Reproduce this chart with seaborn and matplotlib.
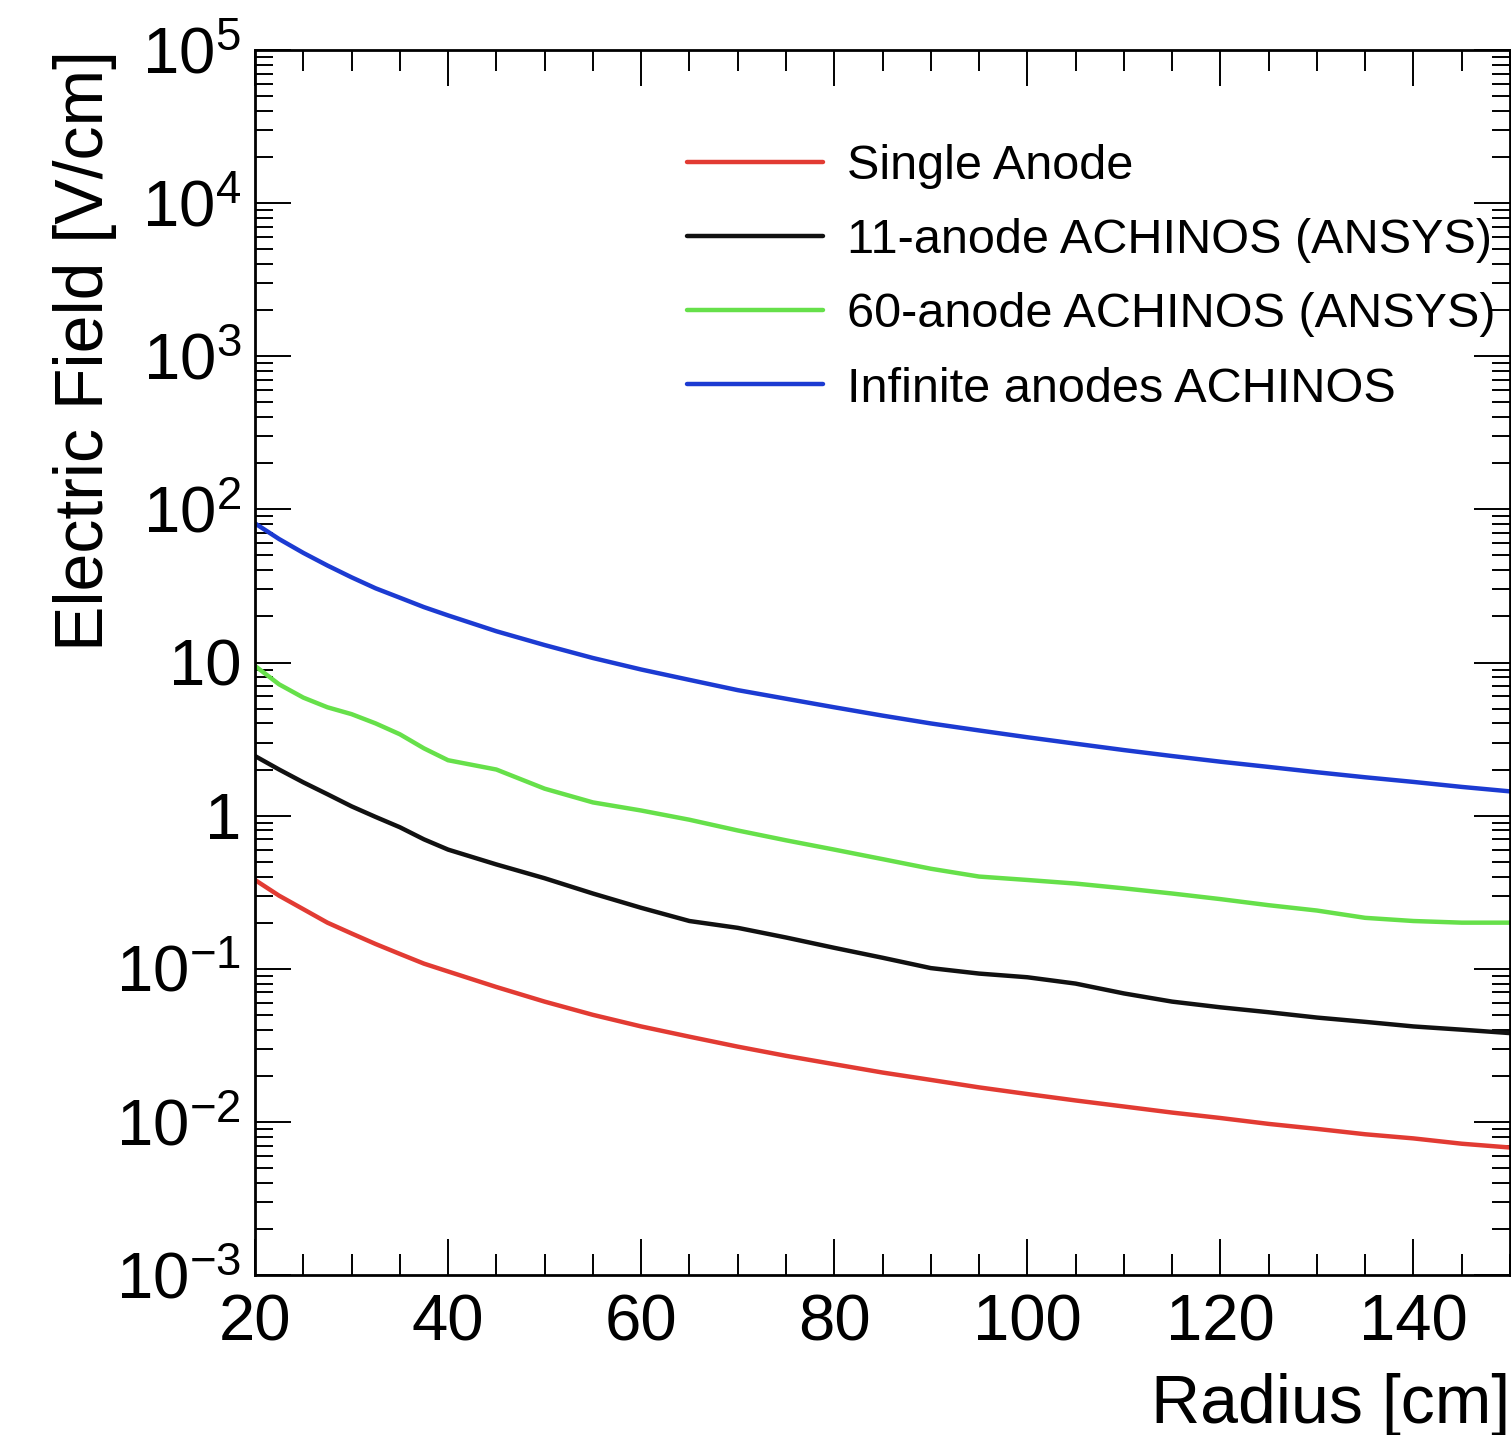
import matplotlib
matplotlib.use("Agg")
import matplotlib.pyplot as plt
import seaborn as sns
import numpy as np
from matplotlib.ticker import LogLocator, MultipleLocator, NullFormatter, FixedLocator

# valores (radio en cm, campo en V/cm)
radius_cm = [20, 22.5, 25, 27.5, 30, 32.5, 35, 37.5, 40, 45, 50, 55, 60, 65,
             70, 75, 80, 85, 90, 95, 100, 105, 110, 115, 120, 125, 130, 135,
             140, 145, 150]

single_anode = [0.38, 0.30, 0.245, 0.200, 0.170, 0.145, 0.125, 0.108, 0.096,
                0.076, 0.061, 0.050, 0.042, 0.036, 0.031, 0.027, 0.0238,
                0.021, 0.0188, 0.0168, 0.0152, 0.0138, 0.0126, 0.0115,
                0.0106, 0.0097, 0.0090, 0.0083, 0.0078, 0.0072, 0.0068]

achinos_11 = [2.45, 2.0, 1.65, 1.38, 1.15, 0.98, 0.84, 0.70, 0.60, 0.48,
              0.39, 0.31, 0.25, 0.205, 0.185, 0.160, 0.137, 0.118, 0.101,
              0.093, 0.088, 0.080, 0.069, 0.061, 0.056, 0.052, 0.048, 0.045,
              0.042, 0.040, 0.038]

achinos_60 = [9.5, 7.2, 5.9, 5.1, 4.6, 4.0, 3.4, 2.75, 2.3, 2.0, 1.50, 1.22,
              1.08, 0.94, 0.80, 0.69, 0.60, 0.52, 0.45, 0.40, 0.38, 0.36,
              0.335, 0.31, 0.285, 0.26, 0.24, 0.215, 0.205, 0.20, 0.20]

achinos_inf = [81, 64, 52, 43, 36, 30.5, 26.5, 23.0, 20.3, 16.0, 13.0, 10.7,
               9.0, 7.7, 6.6, 5.8, 5.1, 4.5, 4.0, 3.6, 3.25, 2.95, 2.68, 2.45,
               2.25, 2.08, 1.92, 1.78, 1.66, 1.54, 1.44]

series_labels = ["Single Anode", "11-anode ACHINOS (ANSYS)",
                 "60-anode ACHINOS (ANSYS)", "Infinite anodes ACHINOS"]
series_colors = ["#e23b33", "#111111", "#66e04a", "#1c3bd2"]

y_ticks = [1e-3, 1e-2, 1e-1, 1, 10, 1e2, 1e3, 1e4, 1e5]
y_tick_labels = [r"$10^{-3}$", r"$10^{-2}$", r"$10^{-1}$", "1", "10",
                 r"$10^{2}$", r"$10^{3}$", r"$10^{4}$", r"$10^{5}$"]

sns.set_theme(style="ticks")
plt.rcParams["font.family"] = ["Liberation Sans", "DejaVu Sans"]
plt.rcParams["mathtext.fontset"] = "custom"
plt.rcParams["mathtext.rm"] = "Liberation Sans"
plt.rcParams["mathtext.it"] = "Liberation Sans:italic"
plt.rcParams["mathtext.bf"] = "Liberation Sans:bold"
plt.rcParams["text.color"] = "black"
plt.rcParams["axes.labelcolor"] = "black"

fig = plt.figure(figsize=(15.11, 14.35), dpi=100)
ax = fig.add_axes([255 / 1511, 160 / 1435, 1255 / 1511, 1225 / 1435])

all_series = [single_anode, achinos_11, achinos_60, achinos_inf]
for values, label, color in zip(all_series, series_labels, series_colors):
    sns.lineplot(x=radius_cm, y=values, color=color, label=label,
                 linewidth=3.2, ax=ax)

ax.set_yscale("log")
ax.set_xlim(20, 150)
ax.set_ylim(1e-3, 1e5)

ax.yaxis.set_major_locator(FixedLocator(y_ticks))
ax.set_yticklabels(y_tick_labels)
ax.yaxis.set_minor_locator(LogLocator(base=10, subs=np.arange(2, 10), numticks=30))
ax.yaxis.set_minor_formatter(NullFormatter())
ax.xaxis.set_major_locator(MultipleLocator(20))
ax.xaxis.set_minor_locator(MultipleLocator(5))

ax.tick_params(which="both", direction="in", top=True, right=True,
               color="black", width=1.4, labelsize=47, labelcolor="black")
ax.tick_params(which="major", length=26)
ax.tick_params(axis="x", which="minor", length=15)
ax.tick_params(axis="y", which="minor", length=13)
ax.tick_params(axis="x", which="major", pad=13)
ax.tick_params(axis="y", which="major", pad=10)

for spine in ax.spines.values():
    spine.set_linewidth(2.0)
    spine.set_color("black")

ax.set_xlabel("Radius [cm]", fontsize=49, loc="right")
ax.set_ylabel("Electric Field [V/cm]", fontsize=49, loc="top")
ax.xaxis.set_label_coords(1.0, -0.080)
ax.yaxis.set_label_coords(-0.11, 1.0)

leg = ax.legend(loc="upper left", bbox_to_anchor=(687 / 1511, 1 - 144 / 1435),
                bbox_transform=fig.transFigure, frameon=False, fontsize=35,
                handlelength=2.8, handletextpad=0.5, labelspacing=0.6,
                borderpad=0, borderaxespad=0)
for txt in leg.get_texts():
    txt.set_color("black")

fig.savefig("out.png", dpi=100, facecolor="white")
